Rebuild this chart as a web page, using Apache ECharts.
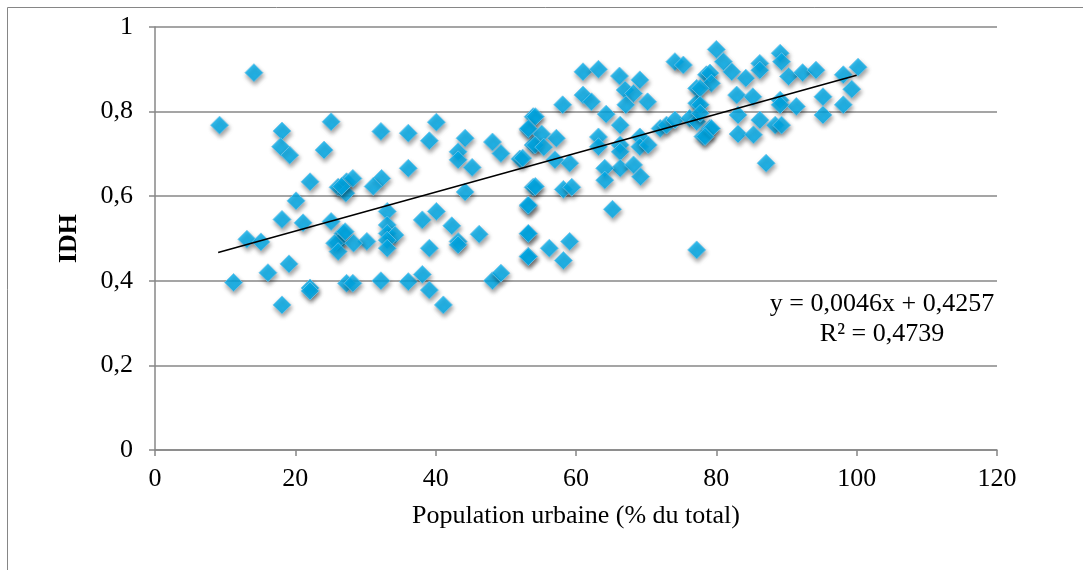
<!DOCTYPE html>
<html>
<head>
<meta charset="utf-8">
<script src="https://cdn.jsdelivr.net/npm/echarts@6/dist/echarts.min.js"></script>
<style>html,body{margin:0;padding:0;background:#fff}#c{width:1083px;height:570px}</style>
</head>
<body>
<div id="c"></div>
<script>
// Urban population (% of total)
const urbanPct = [
14.1, 9.2, 18.1, 25.1, 17.9, 19.2, 24.1, 22.1, 26.1, 27.3, 27.2, 20.1, 18.1, 21.1, 25.1, 26.8, 13.1, 15.1, 26.1,
25.6, 26.1, 19.1, 16.1, 11.2, 22.1, 22.1, 18.1, 27.3,
40.1, 32.2, 36.1, 39.1, 44.2, 48.1, 49.3, 43.2, 43.2, 45.2, 52.0, 53.9, 53.2, 53.9, 36.1, 28.2, 32.3, 31.1, 26.6,
44.2, 53.9, 53.2, 33.1, 33.1, 40.1, 38.1, 42.3, 27.1, 33.1, 34.2, 33.1, 33.1, 30.2, 28.3, 43.2, 43.2, 39.1, 46.2,
53.2, 53.2, 28.2, 32.2, 36.1, 38.1, 39.1, 41.1, 48.1, 49.3,
61.0, 63.2, 66.2, 69.1, 74.1, 75.3, 78.6, 77.2, 61.0, 62.2, 58.1, 67.0, 68.2, 67.1, 70.2, 77.2, 54.2, 64.3, 66.3,
53.2, 55.1, 57.2, 54.2, 55.4, 52.4, 57.0, 59.1, 63.2, 63.2, 66.3, 66.3, 69.1, 69.1, 70.3, 72.0, 72.9, 74.1, 76.2,
77.2, 78.1, 79.1, 66.3, 64.1, 64.1, 68.2, 69.2, 54.2, 58.2, 59.4, 53.2, 65.2, 53.2, 59.1, 56.2, 53.2, 58.2, 77.2,
80.0, 81.0, 82.2, 79.1, 79.3, 86.2, 86.2, 89.1, 89.3, 84.2, 90.3, 92.3, 94.2, 98.1, 100.2, 99.3, 77.7, 82.9, 85.2,
77.7, 77.7, 83.1, 89.1, 89.1, 91.4, 95.2, 95.2, 98.1, 86.2, 79.3, 78.4, 83.1, 85.3, 88.4, 89.3, 87.1
];
// HDI (IDH)
const hdi = [
0.892, 0.768, 0.754, 0.776, 0.717, 0.697, 0.709, 0.634, 0.621, 0.634, 0.607, 0.589, 0.545, 0.537, 0.540, 0.512, 0.498, 0.492, 0.490,
0.489, 0.469, 0.440, 0.419, 0.396, 0.383, 0.376, 0.343, 0.394,
0.775, 0.753, 0.749, 0.731, 0.737, 0.728, 0.701, 0.705, 0.686, 0.668, 0.688, 0.788, 0.757, 0.721, 0.666, 0.642, 0.642, 0.623, 0.623,
0.610, 0.621, 0.577, 0.564, 0.532, 0.564, 0.544, 0.530, 0.516, 0.512, 0.508, 0.496, 0.477, 0.493, 0.489, 0.493, 0.485, 0.477, 0.510,
0.511, 0.458, 0.394, 0.400, 0.398, 0.415, 0.378, 0.343, 0.400, 0.418,
0.894, 0.900, 0.884, 0.875, 0.918, 0.910, 0.887, 0.855, 0.839, 0.823, 0.816, 0.851, 0.843, 0.816, 0.823, 0.820, 0.788, 0.794, 0.768,
0.760, 0.747, 0.737, 0.721, 0.716, 0.690, 0.686, 0.678, 0.740, 0.717, 0.721, 0.705, 0.740, 0.717, 0.721, 0.760, 0.768, 0.780, 0.784,
0.776, 0.741, 0.760, 0.666, 0.666, 0.638, 0.674, 0.646, 0.623, 0.616, 0.621, 0.579, 0.569, 0.512, 0.493, 0.477, 0.457, 0.448, 0.473,
0.947, 0.918, 0.894, 0.891, 0.867, 0.914, 0.898, 0.938, 0.918, 0.879, 0.883, 0.892, 0.898, 0.887, 0.905, 0.853, 0.855, 0.839, 0.835,
0.816, 0.796, 0.792, 0.827, 0.816, 0.812, 0.835, 0.792, 0.816, 0.780, 0.760, 0.741, 0.747, 0.745, 0.768, 0.768, 0.678
];
// Linear trend shown on the chart: y = 0,0046x + 0,4257
const trendSlope = 0.0046;
const trendIntercept = 0.4257;
const trendX = [9, 100];
const equationText = 'y = 0,0046x + 0,4257';
const r2Text = 'R² = 0,4739';

const points = urbanPct.map((x, i) => [x, hdi[i]]);
const trendPts = trendX.map(x => [x, trendSlope * x + trendIntercept]);
const fmt = v => String(Math.round(v * 10) / 10).replace('.', ',');
const font = '"Liberation Serif", "Times New Roman", serif';
const gridColor = '#878787';

const chart = echarts.init(document.getElementById('c'), null, {renderer: 'canvas'});
chart.setOption({
  animation: false,
  backgroundColor: '#fff',
  grid: {left: 155, right: 86, top: 27, bottom: 120},
  xAxis: {
    type: 'value', min: 0, max: 120, interval: 20,
    name: 'Population urbaine (% du total)', nameLocation: 'middle', nameGap: 53,
    nameTextStyle: {fontFamily: font, fontSize: 26, color: '#000'},
    axisLine: {lineStyle: {color: gridColor, width: 1.5}},
    axisTick: {show: true, length: 6, lineStyle: {color: gridColor, width: 1.5}},
    axisLabel: {fontFamily: font, fontSize: 26, color: '#000', margin: 16},
    splitLine: {show: false}
  },
  yAxis: {
    type: 'value', min: 0, max: 1, interval: 0.2,
    name: 'IDH', nameLocation: 'middle', nameGap: 73, nameRotate: 90,
    nameTextStyle: {fontFamily: font, fontSize: 26, fontWeight: 'bold', color: '#000'},
    axisLine: {show: true, lineStyle: {color: gridColor, width: 1.5}},
    axisTick: {show: true, length: 6, lineStyle: {color: gridColor, width: 1.5}},
    axisLabel: {fontFamily: font, fontSize: 26, color: '#000', margin: 22, formatter: fmt},
    splitLine: {show: true, lineStyle: {color: gridColor, width: 1.5}}
  },
  series: [
    {
      type: 'scatter', data: points, symbol: 'diamond', symbolSize: 18,
      itemStyle: {color: '#00B0F0', borderColor: '#70C4EA', borderWidth: 1,
        shadowBlur: 4, shadowColor: 'rgba(0,0,0,0.45)', shadowOffsetX: 1, shadowOffsetY: 3},
      z: 2
    },
    {
      type: 'line', data: trendPts, symbol: 'none', silent: true,
      lineStyle: {color: '#000', width: 1.6}, z: 3
    }
  ],
  graphic: [
    {type: 'rect', shape: {x: 7.5, y: 7.5, width: 1100, height: 600}, style: {fill: 'none', stroke: '#868686', lineWidth: 1}, z: -1},
    {type: 'text', x: 882, y: 291, style: {text: equationText, font: '26px ' + font, fill: '#000', align: 'center', verticalAlign: 'top'}},
    {type: 'text', x: 882, y: 321, style: {text: r2Text, font: '26px ' + font, fill: '#000', align: 'center', verticalAlign: 'top'}}
  ]
});
</script>
</body>
</html>
